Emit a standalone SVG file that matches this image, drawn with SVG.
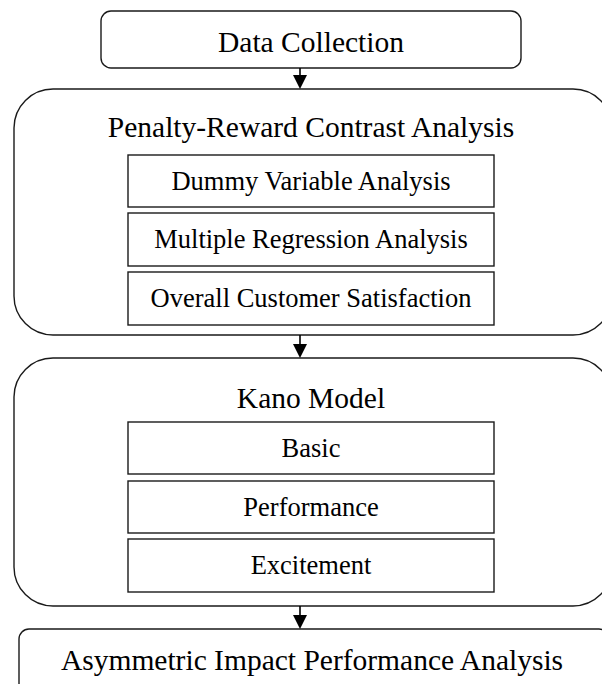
<svg xmlns="http://www.w3.org/2000/svg" width="602" height="684" viewBox="0 0 602 684">
<style>
.box{fill:#fff;stroke:#1a1a1a;stroke-width:1.4}
.t{font-family:"Liberation Serif","Times New Roman",serif;fill:#000;text-anchor:middle}
.big{font-size:29.5px}
.small{font-size:26.5px}
.conn line{stroke:#000;stroke-width:1.6}
.conn polygon{fill:#000}
</style>
<rect width="602" height="684" fill="#fff"/>
<g id="data-collection">
<rect class="box" x="101" y="11" width="420" height="57" rx="10"/>
<text class="t big" x="311" y="52">Data Collection</text>
</g>
<g id="prca">
<rect class="box" x="14" y="89" width="598" height="246" rx="39"/>
<text class="t big" x="311" y="137">Penalty-Reward Contrast Analysis</text>
</g>
<g id="dummy">
<rect class="box" x="128" y="155" width="366" height="52"/>
<text class="t small" x="311" y="190">Dummy Variable Analysis</text>
</g>
<g id="multiple">
<rect class="box" x="128" y="213" width="366" height="53"/>
<text class="t small" x="311" y="248">Multiple Regression Analysis</text>
</g>
<g id="overall">
<rect class="box" x="128" y="272" width="366" height="53"/>
<text class="t small" x="311" y="307">Overall Customer Satisfaction</text>
</g>
<g id="kano">
<rect class="box" x="14" y="358" width="598" height="248" rx="39"/>
<text class="t big" x="311" y="408">Kano Model</text>
</g>
<g id="basic">
<rect class="box" x="128" y="422" width="366" height="52"/>
<text class="t small" x="311" y="457">Basic</text>
</g>
<g id="performance">
<rect class="box" x="128" y="481" width="366" height="52"/>
<text class="t small" x="311" y="516">Performance</text>
</g>
<g id="excitement">
<rect class="box" x="128" y="539" width="366" height="53"/>
<text class="t small" x="311" y="574">Excitement</text>
</g>
<g id="aipa">
<rect class="box" x="19" y="629" width="590" height="80" rx="10"/>
<text class="t big" x="312" y="670">Asymmetric Impact Performance Analysis</text>
</g>
<g class="conn" id="connectors">
<line x1="300" y1="68" x2="300" y2="76"/>
<polygon points="293,75 307,75 300,89"/>
<line x1="300" y1="335" x2="300" y2="345"/>
<polygon points="293,344 307,344 300,358"/>
<line x1="300" y1="606" x2="300" y2="616"/>
<polygon points="293,615 307,615 300,629"/>
</g>
</svg>
